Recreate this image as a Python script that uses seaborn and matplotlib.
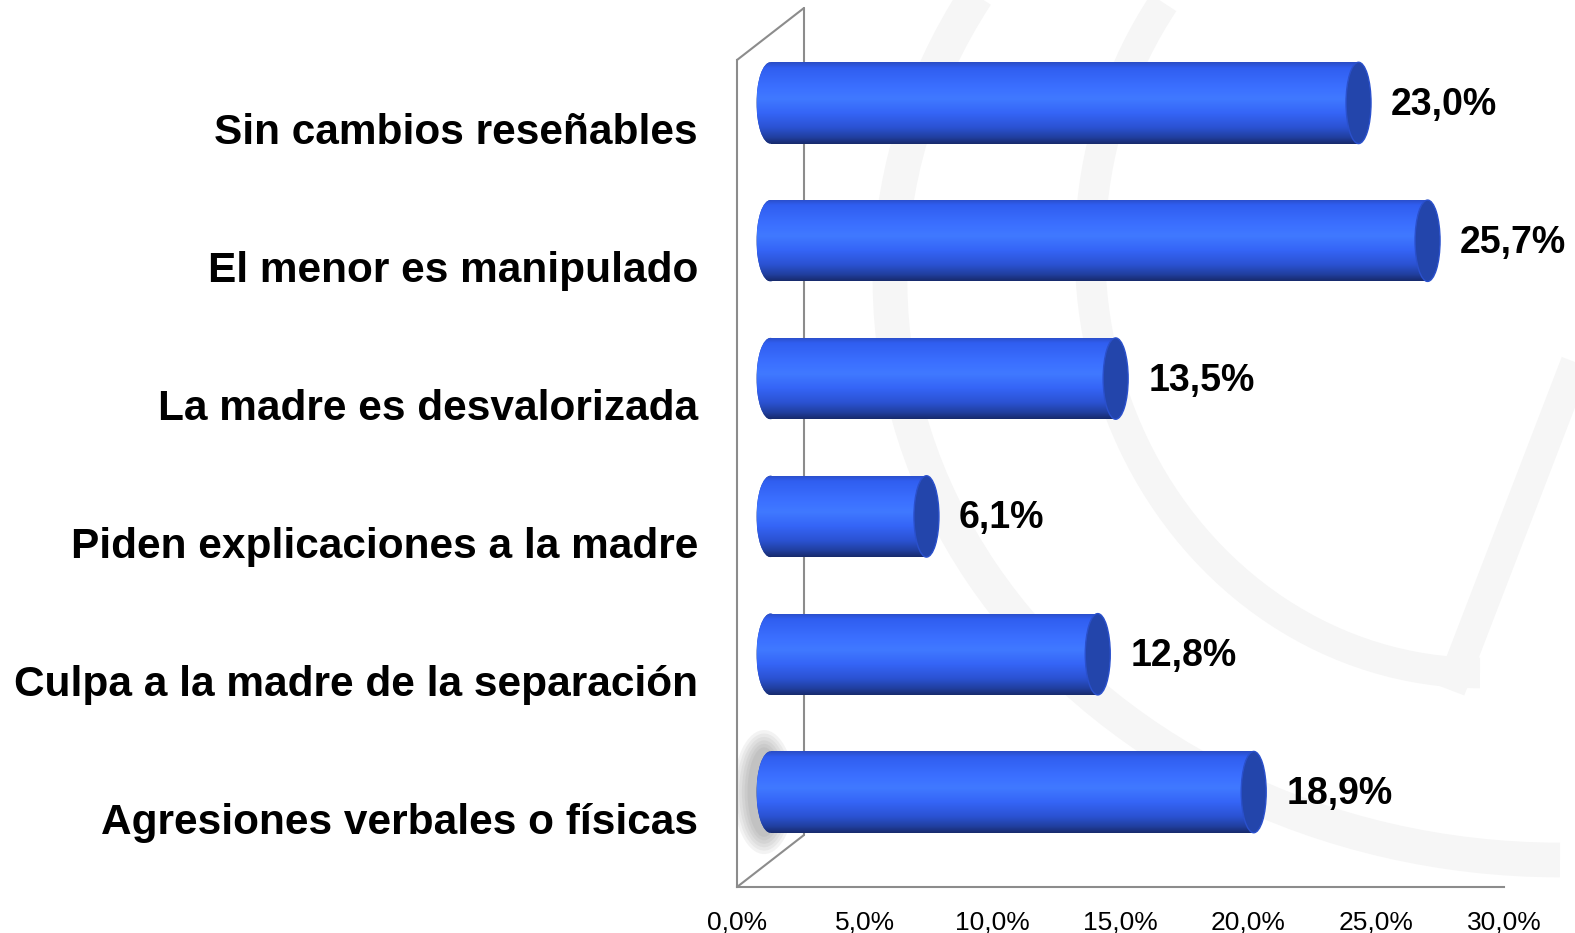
"""3D-style cylinder bar chart: changes observed in the child."""

import matplotlib

matplotlib.use("Agg")

import matplotlib.pyplot as plt
import numpy as np
import seaborn as sns
from matplotlib.colors import LinearSegmentedColormap
from matplotlib.patches import Arc, ConnectionPatch, Ellipse
from matplotlib.transforms import ScaledTranslation

categories = [
    "Sin cambios reseñables",
    "El menor es manipulado",
    "La madre es desvalorizada",
    "Piden explicaciones a la madre",
    "Culpa a la madre de la separación",
    "Agresiones verbales o físicas",
]
values = [23.0, 25.7, 13.5, 6.1, 12.8, 18.9]
x_ticks = [0, 5, 10, 15, 20, 25, 30]


def pct(v: float) -> str:
    return f"{v:.1f}%".replace(".", ",")


GRAY = "#8c8c8c"
CAP = "#2345ab"
BAR_H = 0.59
PX_PER_UNIT = 767 / 30  # pixels per percentage point
LEFT_RX = 14 / PX_PER_UNIT
CAP_RX = 12.5 / PX_PER_UNIT

sns.set_theme(style="white")
plt.rcParams["font.family"] = ["Liberation Sans", "DejaVu Sans"]

fig = plt.figure(figsize=(15.75, 9.33), dpi=100)

# faint watermark behind the chart (pixel coordinates)
bg = fig.add_axes([0, 0, 1, 1], zorder=-1)
bg.set_xlim(0, 1575)
bg.set_ylim(933, 0)
bg.axis("off")
wm = "#f6f6f6"
bg.add_patch(Arc((1560, 280), 1340, 1160, theta1=90, theta2=206, color=wm, lw=25))
bg.add_patch(Arc((1480, 250), 780, 846, theta1=90, theta2=218, color=wm, lw=22))
bg.plot([1450, 1600], [690, 300], color=wm, lw=22, solid_capstyle="butt")

ax = fig.add_axes([737 / 1575, 46 / 933, 767 / 1575, 827 / 933])
ax.patch.set_alpha(0)

mid = ax.transData + ScaledTranslation(0.335, 0.26, fig.dpi_scale_trans)
back = ax.transData + ScaledTranslation(0.67, 0.52, fig.dpi_scale_trans)

sns.barplot(
    x=values, y=categories, orient="h", width=BAR_H, color=CAP,
    saturation=1, linewidth=0, ax=ax, zorder=3,
)

cmap = LinearSegmentedColormap.from_list(
    "cyl",
    [
        (0.0, "#2a4cc4"),
        (0.07, "#305ef0"),
        (0.3, "#3b6fff"),
        (0.45, "#4079ff"),
        (0.62, "#3565f7"),
        (0.8, "#2b52d2"),
        (0.92, "#213f9f"),
        (1.0, "#172a6c"),
    ],
)
grad = np.linspace(0, 1, 256).reshape(-1, 1)

for i, (bar, v) in enumerate(zip(ax.patches, values)):
    bar.set_transform(mid)
    if i == len(values) - 1:
        # soft shadow at the left end of the last bar
        for k in range(6):
            ax.add_patch(Ellipse((-0.25, i), 1.3 + 0.22 * k, BAR_H + 0.06 + 0.05 * k,
                                 transform=mid, color="#404040", alpha=0.06, lw=0, zorder=2.5))
    left = Ellipse((0, i), 2 * LEFT_RX, BAR_H, transform=mid, color=CAP, lw=0, zorder=3)
    ax.add_patch(left)
    for clip in (bar, left):
        im = ax.imshow(grad, extent=(-LEFT_RX, v, i + BAR_H / 2, i - BAR_H / 2),
                       origin="upper", aspect="auto", cmap=cmap, transform=mid,
                       zorder=3.1, interpolation="bilinear")
        im.set_clip_path(clip)
    ax.add_patch(Ellipse((v, i), 2 * CAP_RX, BAR_H, transform=mid, facecolor=CAP,
                         edgecolor="#2a50cc", lw=1, zorder=3.2))
    ax.annotate(pct(v), xy=(v, i), xycoords=mid, xytext=(CAP_RX * PX_PER_UNIT + 20, -2),
                textcoords="offset pixels", ha="left", va="center",
                fontsize=27, fontweight="bold", color="black", zorder=4)

ax.set_xlim(0, 30)
ax.set_ylim(5.5, -0.5)

# 3D frame: back wall edge and the two depth diagonals
ax.plot([0, 0], [-0.5, 5.5], transform=back, color=GRAY, lw=1.5, clip_on=False, zorder=1)
for y in (-0.5, 5.5):
    ax.add_artist(ConnectionPatch(xyA=(0, y), coordsA=ax.transData, xyB=(0, y), coordsB=back,
                                  arrowstyle="-", color=GRAY, lw=1.5, zorder=1))

for side in ("top", "right"):
    ax.spines[side].set_visible(False)
for side in ("left", "bottom"):
    ax.spines[side].set_color(GRAY)
    ax.spines[side].set_linewidth(1.5)

ax.set_xticks(x_ticks)
ax.set_xticklabels([pct(t) for t in x_ticks])
ax.tick_params(axis="x", length=5, width=1.5, color=GRAY, pad=12, labelsize=19, labelcolor="black")
ax.set_yticks(np.arange(-0.5, len(categories), 1), minor=True)
ax.tick_params(axis="y", which="major", length=0, pad=28, labelsize=30.5, labelcolor="black")
ax.tick_params(axis="y", which="minor", length=7, width=1.5, color=GRAY)
for lbl in ax.get_yticklabels():
    lbl.set_fontweight("bold")
ax.set_xlabel("")
ax.set_ylabel("")

fig.savefig("out.png", dpi=100)
plt.close(fig)
